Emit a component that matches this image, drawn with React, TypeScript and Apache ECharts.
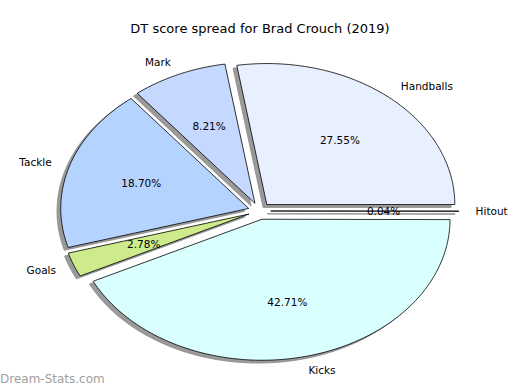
import React, { useEffect, useRef } from "react";
import * as echarts from "echarts";

const categories = ["Handballs", "Mark", "Tackle", "Goals", "Kicks", "Hitout"];
const shares = [27.55, 8.21, 18.7, 2.78, 42.71, 0.04];
const colors = ["#e8f0ff", "#c5d8ff", "#b4d4ff", "#cdeb8b", "#d9ffff", "#cfe0ff"];
const titleText = "DT score spread for Brad Crouch (2019)";
const watermark = "Dream-Stats.com";

const FONT = "'DejaVu Sans', sans-serif";

export default function App() {
  const ref = useRef<HTMLDivElement>(null);
  useEffect(() => {
    if (!ref.current) return;
    const chart = echarts.init(ref.current, null, { renderer: "svg" });
    const total = shares.reduce((a, b) => a + b, 0);
    const starts: number[] = [];
    let acc = 0;
    shares.forEach((v) => {
      starts.push(acc);
      acc += v;
    });
    const cx = 259.5;
    const cy = 211;
    const rx = 188;
    const ry = 141;
    const explode = 0.06;
    const shOx = -0.02 * rx;
    const shOy = 0.02 * ry;

    const renderItem = (params: any, api: any) => {
      const i = params.dataIndex;
      const v = api.value(1);
      const t1 = (starts[i] / total) * 360;
      const t2 = ((starts[i] + v) / total) * 360;
      const tm = ((t1 + t2) / 2) * Math.PI / 180;
      const ax = cx + explode * rx * Math.cos(tm);
      const ay = cy - explode * ry * Math.sin(tm);
      const pts: number[][] = [[ax, ay]];
      const steps = Math.max(2, Math.ceil(t2 - t1));
      for (let k = 0; k <= steps; k++) {
        const a = ((t1 + ((t2 - t1) * k) / steps) * Math.PI) / 180;
        pts.push([ax + rx * Math.cos(a), ay - ry * Math.sin(a)]);
      }
      const shadowPts = pts.map((p) => [p[0] + shOx, p[1] + shOy]);
      const cosm = Math.cos(tm);
      const sinm = Math.sin(tm);
      return {
        type: "group",
        children: [
          {
            type: "polygon",
            z2: 0,
            shape: { points: shadowPts },
            style: { fill: "#9a9a9a", stroke: "#8a8a8a", lineWidth: 0.8 },
          },
          {
            type: "polygon",
            z2: 5,
            shape: { points: pts },
            style: { fill: api.visual("color"), stroke: "#000", lineWidth: 0.8, lineJoin: "miter" },
          },
          {
            type: "text",
            z2: 10,
            x: ax + 0.6 * rx * cosm,
            y: ay - 0.6 * ry * sinm,
            style: {
              text: v.toFixed(2) + "%",
              fill: "#000",
              font: "10.5px " + FONT,
              align: "center",
              verticalAlign: "middle",
            },
          },
          {
            type: "text",
            z2: 10,
            x: ax + 1.1 * rx * cosm - (i === 5 ? 2 : 0),
            y: ay - 1.1 * ry * sinm,
            style: {
              text: categories[i],
              fill: "#000",
              font: "10.5px " + FONT,
              align: cosm >= 0 ? "left" : "right",
              verticalAlign: "middle",
            },
          },
        ],
      };
    };

    chart.setOption({
      animation: false,
      backgroundColor: "#ffffff",
      title: {
        text: titleText,
        left: "center",
        top: 17,
        textStyle: { fontFamily: FONT, fontSize: 13, fontWeight: "normal", color: "#000" },
      },
      graphic: [
        {
          type: "text",
          left: 0,
          top: 373,
          style: { text: watermark, fill: "#a0a0a0", font: "12px " + FONT },
        },
      ],
      series: [
        {
          type: "custom",
          coordinateSystem: "none",
          renderItem,
          data: categories.map((c, i) => ({
            name: c,
            value: [i, shares[i]],
            itemStyle: { color: colors[i] },
          })),
        },
      ],
    });
    return () => chart.dispose();
  }, []);
  return (
    <div
      ref={ref}
      style={{ position: "fixed", left: 0, top: 0, width: 520, height: 390 }}
    />
  );
}
